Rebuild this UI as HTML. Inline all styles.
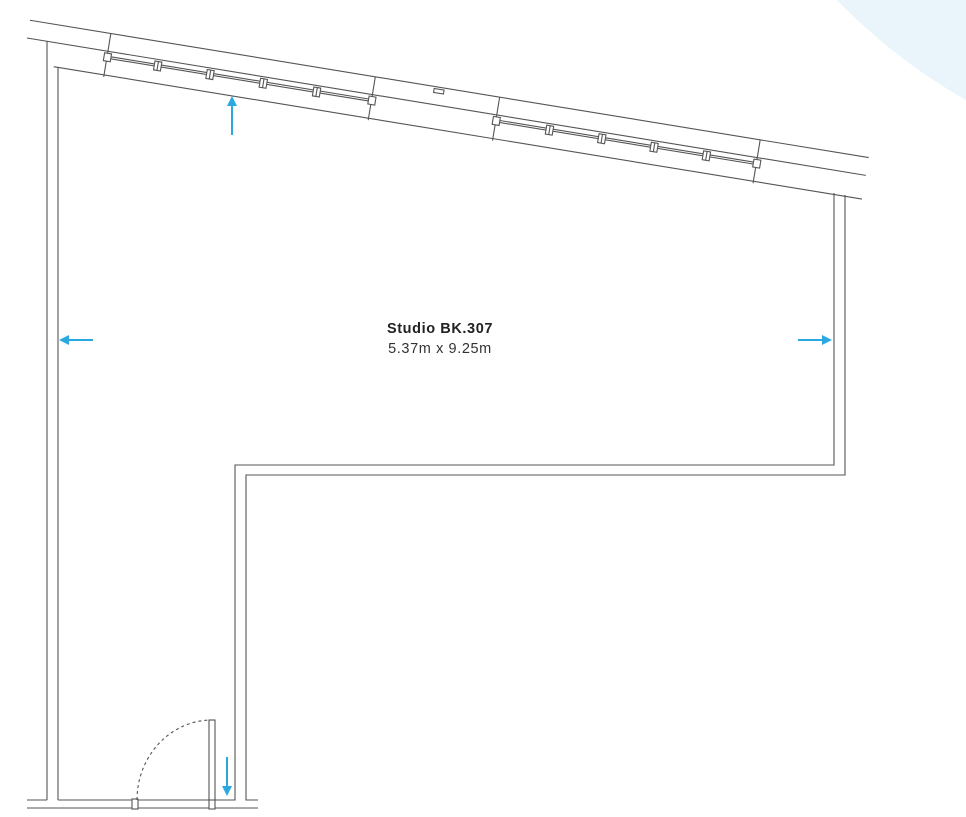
<!DOCTYPE html>
<html><head><meta charset="utf-8"><style>
html,body{margin:0;padding:0;background:#fff;}
svg{display:block;}
</style></head><body>
<svg width="966" height="817" viewBox="0 0 966 817" xmlns="http://www.w3.org/2000/svg">
<circle cx="1250" cy="-400" r="575" fill="#e9f4fb"/>
<g stroke="#555" stroke-width="1.1" fill="none">
 <g transform="translate(27,38) rotate(9.3)">
  <line x1="0" y1="-18" x2="850" y2="-18"/>
  <line x1="0" y1="0" x2="850" y2="0"/>
  <line x1="31" y1="24" x2="850" y2="24"/>
  <line x1="82" y1="-18" x2="82" y2="26"/>
  <line x1="350" y1="-18" x2="350" y2="26"/>
  <line x1="476" y1="-18" x2="476" y2="26"/>
  <line x1="740" y1="-18" x2="740" y2="26"/>
  <line x1="82" y1="5" x2="350" y2="5"/><line x1="82" y1="7" x2="350" y2="7"/>
  <line x1="476" y1="5" x2="740" y2="5"/><line x1="476" y1="7" x2="740" y2="7"/>
  <rect x="79" y="2" width="7" height="8" fill="#fff"/>
  <rect x="347" y="2" width="7" height="8" fill="#fff"/>
  <rect x="473" y="2" width="7" height="8" fill="#fff"/>
  <rect x="737" y="2" width="7" height="8" fill="#fff"/>
  <g fill="#fff">
   <rect x="130" y="2" width="7" height="9"/><rect x="183" y="2" width="7" height="9"/>
   <rect x="237" y="2" width="7" height="9"/><rect x="291" y="2" width="7" height="9"/>
   <rect x="527" y="2" width="7" height="9"/><rect x="580" y="2" width="7" height="9"/>
   <rect x="633" y="2" width="7" height="9"/><rect x="686" y="2" width="7" height="9"/>
  </g>
  <g>
   <line x1="133.5" y1="2" x2="133.5" y2="11"/><line x1="186.5" y1="2" x2="186.5" y2="11"/>
   <line x1="240.5" y1="2" x2="240.5" y2="11"/><line x1="294.5" y1="2" x2="294.5" y2="11"/>
   <line x1="530.5" y1="2" x2="530.5" y2="11"/><line x1="583.5" y1="2" x2="583.5" y2="11"/>
   <line x1="636.5" y1="2" x2="636.5" y2="11"/><line x1="689.5" y1="2" x2="689.5" y2="11"/>
  </g>
  <rect x="410" y="-16" width="10" height="4" fill="#fff"/>
 </g>
 <line x1="47" y1="41" x2="47" y2="800"/>
 <line x1="58" y1="67" x2="58" y2="800"/>
 <line x1="27" y1="800" x2="47" y2="800"/>
 <line x1="27" y1="808" x2="258" y2="808"/>
 <polyline points="58,800 235,800 235,465 834,465 834,193"/>
 <polyline points="258,800 246,800 246,475 845,475 845,195"/>
 <rect x="132" y="799" width="6" height="10" fill="#fff"/>
 <rect x="209" y="799" width="6" height="10" fill="#fff"/>
 <line x1="138" y1="800" x2="209" y2="800"/>
 <rect x="209" y="720" width="6" height="80" fill="#fff"/>
 <path d="M137,800 A75,80 0 0 1 212,720" stroke-dasharray="3,3"/>
</g>
<g stroke="#29a9e0" stroke-width="2" fill="#29a9e0">
 <line x1="232" y1="135" x2="232" y2="104"/><polygon points="227,106 237,106 232,96" stroke="none"/>
 <line x1="93" y1="340" x2="67" y2="340"/><polygon points="69,335 69,345 59,340" stroke="none"/>
 <line x1="798" y1="340" x2="824" y2="340"/><polygon points="822,335 822,345 832,340" stroke="none"/>
 <line x1="227" y1="757" x2="227" y2="788"/><polygon points="222,786 232,786 227,796" stroke="none"/>
</g>
<text x="440" y="333" text-anchor="middle" font-family="Liberation Sans, sans-serif" font-weight="bold" font-size="14.5" letter-spacing="0.6" fill="#222">Studio BK.307</text>
<text x="440" y="353" text-anchor="middle" font-family="Liberation Sans, sans-serif" font-size="14.5" letter-spacing="0.6" fill="#333">5.37m x 9.25m</text>
</svg>
</body></html>
